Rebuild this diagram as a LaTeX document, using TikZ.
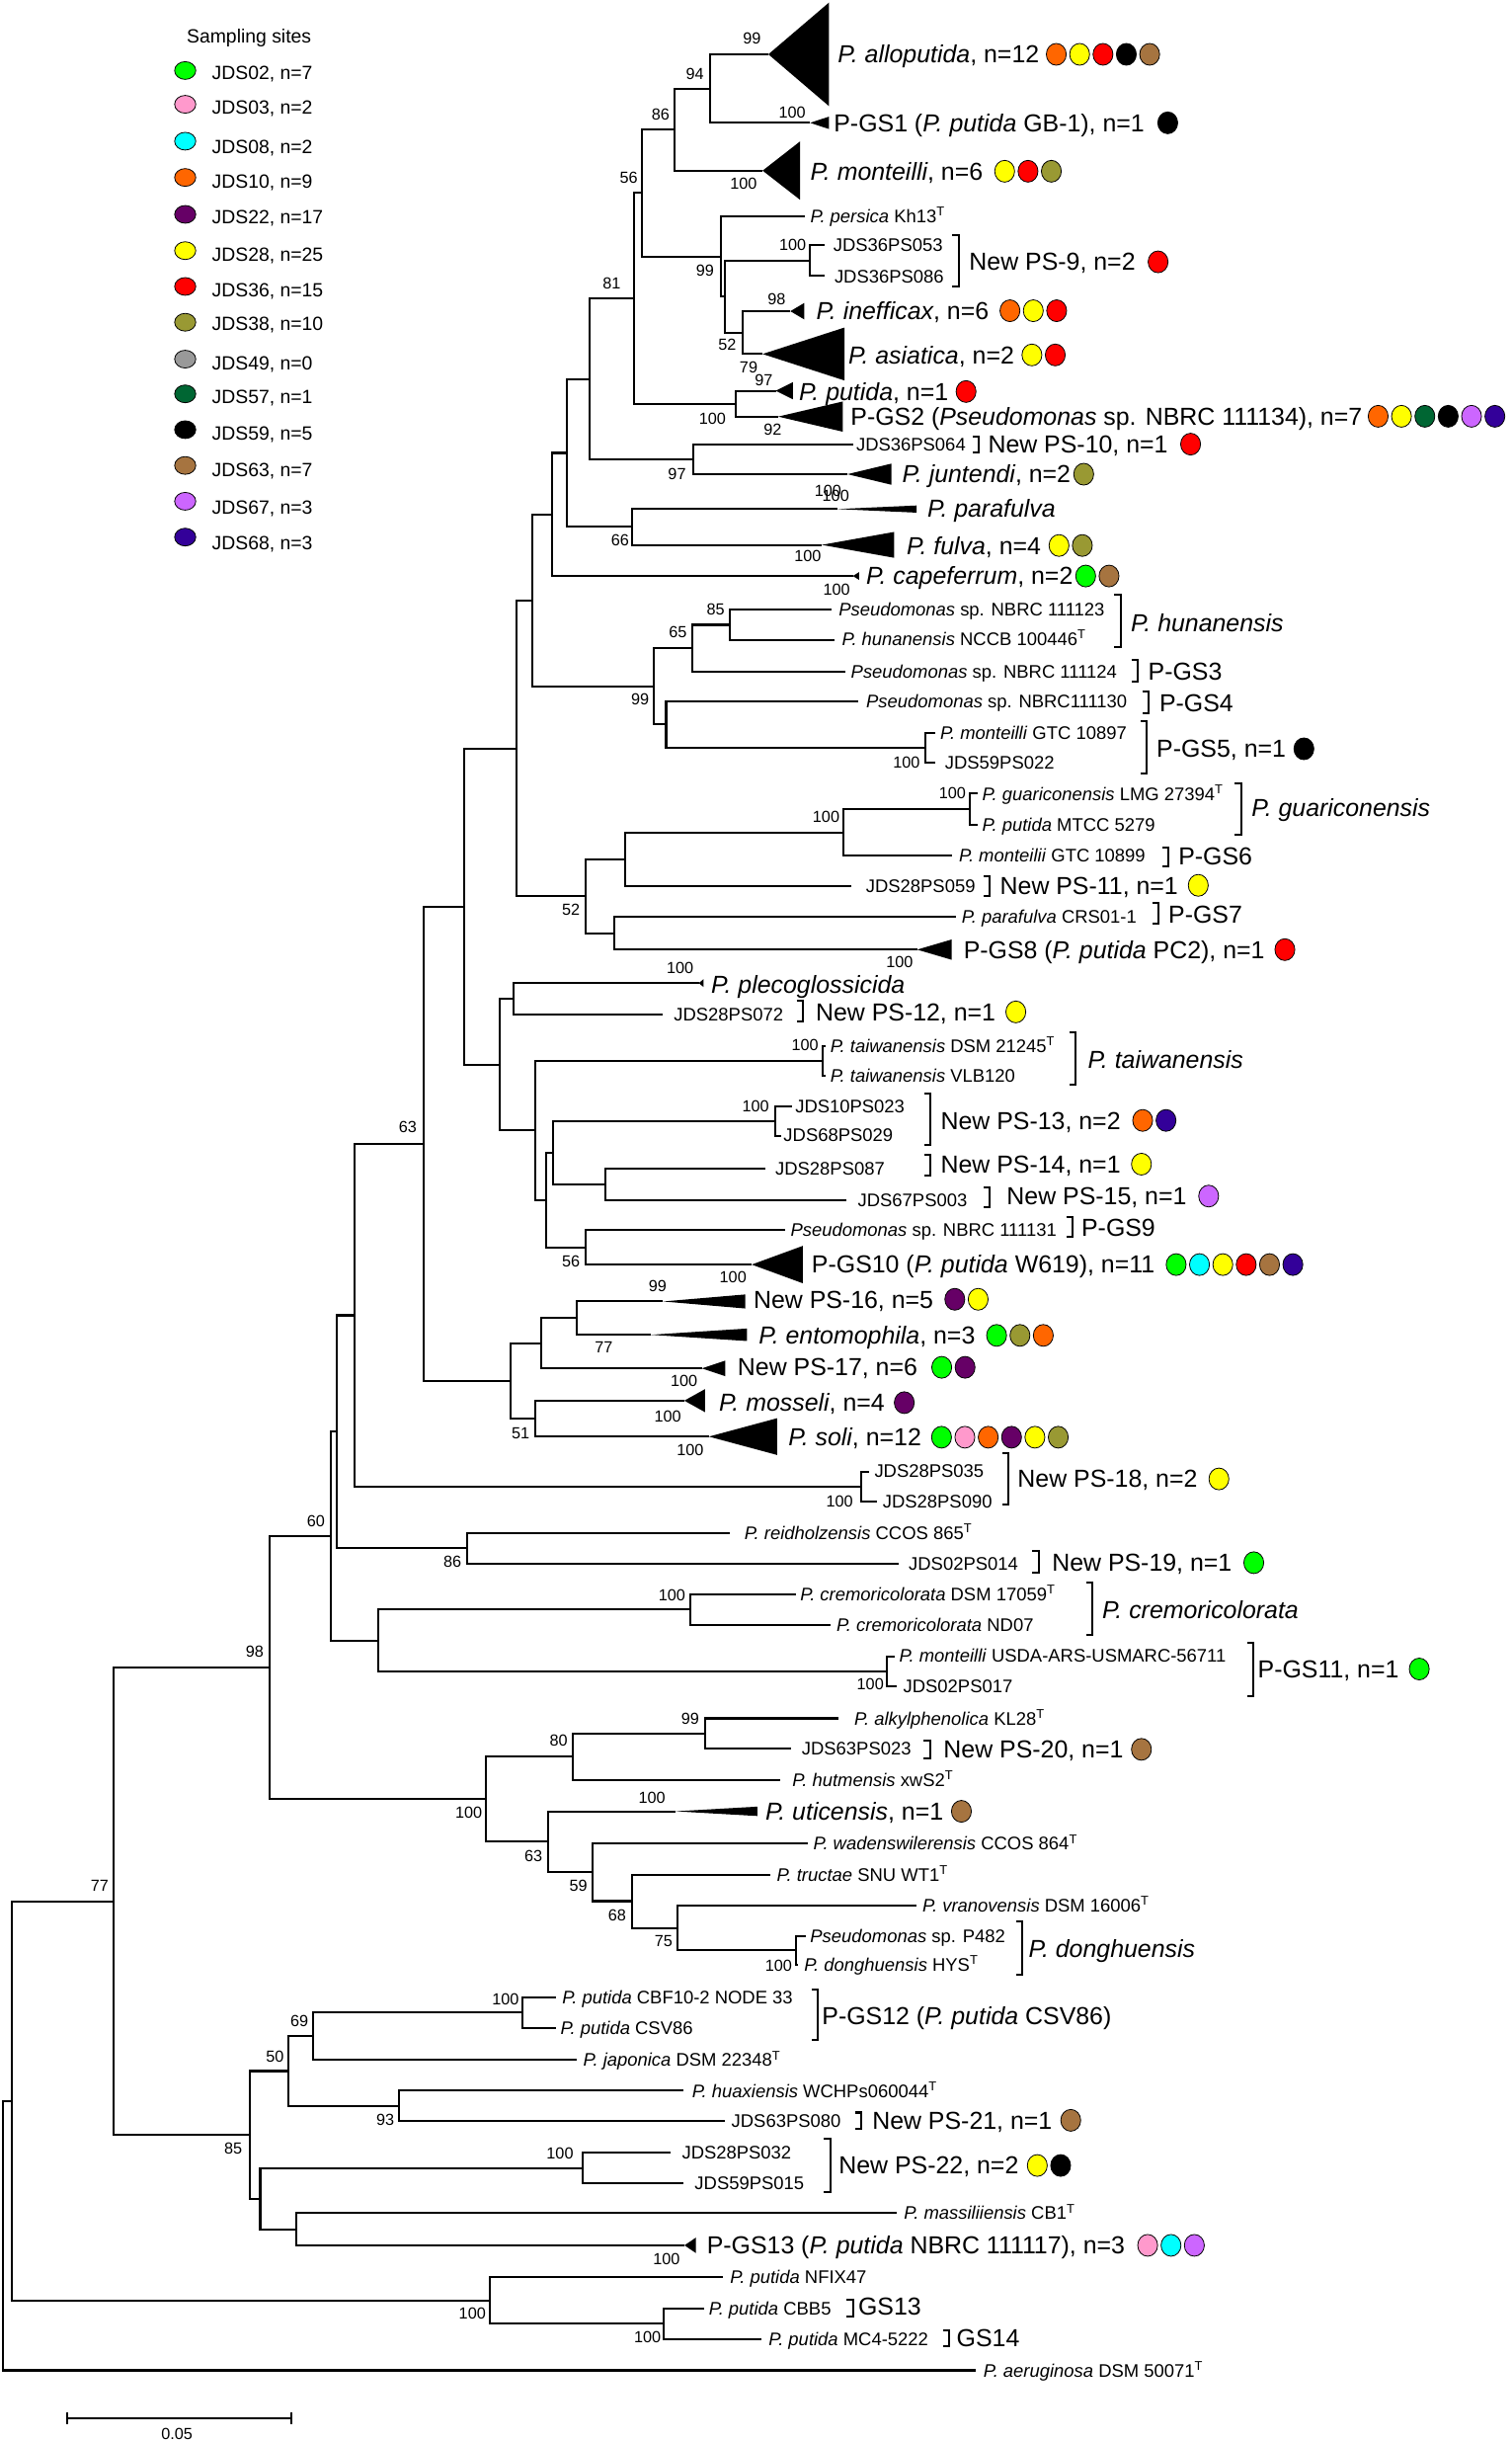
\documentclass[tikz,border=0pt]{standalone}
\usepackage{fontspec}
\setmainfont{Liberation Sans}
\usetikzlibrary{calc}
\definecolor{c02}{RGB}{0,255,0}
\definecolor{c03}{RGB}{255,153,204}
\definecolor{c08}{RGB}{0,255,255}
\definecolor{c10}{RGB}{255,102,0}
\definecolor{c22}{RGB}{102,0,102}
\definecolor{c28}{RGB}{255,255,0}
\definecolor{c36}{RGB}{255,0,0}
\definecolor{c38}{RGB}{153,153,51}
\definecolor{c49}{RGB}{153,153,153}
\definecolor{c57}{RGB}{0,102,51}
\definecolor{c59}{RGB}{0,0,0}
\definecolor{c63}{RGB}{166,116,64}
\definecolor{c67}{RGB}{204,102,255}
\definecolor{c68}{RGB}{51,0,153}
\newcommand\bsf{\fontsize{10.3}{12}\selectfont}
\newcommand\slf{\fontsize{11.7}{13}\selectfont}
\newcommand\blf{\fontsize{15.8}{17}\selectfont}
\newcommand\lgf{\fontsize{12.3}{14}\selectfont}
\tikzset{
 br/.style={line width=1.3pt},
 bk/.style={line width=1.3pt},
 bs/.style={inner sep=0pt, font=\bsf},
 sl/.style={anchor=base west, inner sep=0pt, yshift=-4.2pt, font=\slf},
 bl/.style={anchor=base west, inner sep=0pt, yshift=-5.6pt, font=\blf},
 lg/.style={anchor=base west, inner sep=0pt, yshift=-4.4pt, font=\lgf},
 dotc/.style={draw=black, line width=0.5pt},
}
\newcommand\ed[2]{\draw[br] (#1) |- (#2);}
\newcommand\tri[3]{\fill (#1) -- ++(#2,#3) -- ++(0,{-2*(#3)}) -- cycle;}
\newcommand\brk[3]{\draw[bk] ({#1-4},#2) -- (#1,#2) -- (#1,#3) -- ({#1-4},#3);}
\newcommand\sdots[3]{\foreach \cc [count=\ii from 0] in {#3}{\filldraw[dotc, fill=\cc] ($(#1.base east)+({#2+6.4+15*\ii},-5.6)$) ellipse[x radius=6.4pt, y radius=7pt];}}
\begin{document}
\begin{tikzpicture}[x=1pt,y=-1pt]
\useasboundingbox (0,0) rectangle (971,1568);
% ---------- legend ----------
\node[font=\lgf, inner sep=0pt] (lgT) at (160,24.5) {Sampling sites};
\foreach \c/\yd/\yt/\t in {c02/45.3/47/{JDS02, n=7}, c03/67/68.7/{JDS03, n=2}, c08/90.7/94/{JDS08, n=2}, c10/114/116.5/{JDS10, n=9}, c22/137.7/139.5/{JDS22, n=17}, c28/161/163.5/{JDS28, n=25}, c36/184/186.5/{JDS36, n=15}, c38/207/208/{JDS38, n=10}, c49/230.7/233.5/{JDS49, n=0}, c57/253/255/{JDS57, n=1}, c59/276/278.3/{JDS59, n=5}, c63/299/302/{JDS63, n=7}, c67/322/326/{JDS67, n=3}, c68/345/348.6/{JDS68, n=3}}{
 \filldraw[dotc, fill=\c] (119,\yd) ellipse[x radius=6.8pt, y radius=5.7pt];
 \node[lg] at (136,\yt) {\t};
}
% ---------- internal nodes ----------
\coordinate (nA) at (456.1,56.9);
\coordinate (nB) at (433.3,83.25);
\coordinate (nC) at (412.6,124.0);
\coordinate (nE) at (463.5,164.8);
\coordinate (nG) at (466,190.55);
\coordinate (nH) at (477.4,213.65);
\coordinate (n9) at (520.5,167.45);
\coordinate (nD) at (407.1,191.65);
\coordinate (nPu) at (472.7,259.3);
\coordinate (n97) at (445.5,295.1);
\coordinate (nP1) at (379,243.4);
\coordinate (n66) at (406.4,338.5);
\coordinate (nP2) at (364,290.95);
\coordinate (nP3) at (355,330.5);
\coordinate (nHu) at (469,401.35);
\coordinate (n65) at (445,416.5);
\coordinate (n5) at (594.8,480.2);
\coordinate (nX) at (428,465.4);
\coordinate (n99) at (420,440.95);
\coordinate (nP3b) at (342,385.7);
\coordinate (nGu) at (623,519.9);
\coordinate (n541) at (541.7,534.75);
\coordinate (n401) at (401.5,551.9);
\coordinate (n395) at (394.8,599.5);
\coordinate (n376) at (376,575.7);
\coordinate (n332) at (332,480.7);
\coordinate (n330) at (330,641.55);
\coordinate (nTw) at (528.6,681.35);
\coordinate (n13) at (498,720.4);
\coordinate (n389) at (388.8,760.8);
\coordinate (n356) at (355.6,740.6);
\coordinate (n56) at (376,801.15);
\coordinate (n351) at (351.2,770.9);
\coordinate (n344) at (343.7,726.1);
\coordinate (n321) at (320.8,683.8);
\coordinate (n298) at (298,582.25);
\coordinate (n370) at (370.5,846.7);
\coordinate (n348) at (348,862.85);
\coordinate (n344b) at (343.7,911.25);
\coordinate (n328) at (328,887.05);
\coordinate (n272) at (272,734.65);
\coordinate (n18) at (553.2,955.15);
\coordinate (n228) at (228,844.9);
\coordinate (n86) at (300.4,994.6);
\coordinate (n216) at (216.2,919.75);
\coordinate (nCr) at (443.3,1033.95);
\coordinate (n11) at (569.7,1073.5);
\coordinate (n243) at (242.8,1053.7);
\coordinate (n60) at (212.8,986.7);
\coordinate (n99c) at (452.8,1113.35);
\coordinate (n80) at (368.1,1128.4);
\coordinate (nDo) at (511.5,1252.9);
\coordinate (n75) at (435.4,1238.35);
\coordinate (n68) at (406,1221.2);
\coordinate (n59) at (381,1202.75);
\coordinate (n63) at (352.2,1183.1);
\coordinate (n100b) at (312.4,1155.75);
\coordinate (n98) at (173,1071.2);
\coordinate (nCB) at (335.8,1292.85);
\coordinate (n69) at (201.2,1308.0);
\coordinate (n93) at (256.2,1352.7);
\coordinate (n50) at (185,1330.35);
\coordinate (n22) at (374.6,1392.55);
\coordinate (n190) at (190.3,1431.95);
\coordinate (n167) at (167.2,1412.25);
\coordinate (n85) at (160.3,1371.3);
\coordinate (n77) at (72.9,1221.25);
\coordinate (n426) at (426.2,1492.7);
\coordinate (n315) at (314.7,1477.75);
\coordinate (n7) at (7.4,1349.5);
\coordinate (nR) at (1.9,1436.05);
% ---------- tips ----------
\coordinate (tAllo) at (493.7,34.9);
\coordinate (tGS1) at (520.5,78.9);
\coordinate (tMon) at (490,109.6);
\coordinate (tPer) at (516.9,139);
\coordinate (tS053) at (530,157.6);
\coordinate (tS086) at (530,177.3);
\coordinate (tIne) at (507.8,199.9);
\coordinate (tAsi) at (490,227.4);
\coordinate (tPut) at (498.5,251);
\coordinate (tGS2) at (500,267.6);
\coordinate (tS064) at (548,285.6);
\coordinate (tJun) at (544.5,304.6);
\coordinate (tPfa) at (538,327);
\coordinate (tFul) at (528,350);
\coordinate (tCap) at (548,370);
\coordinate (t123) at (534,391.4);
\coordinate (tHun) at (536,411.3);
\coordinate (t124) at (543,431.6);
\coordinate (t130) at (551.6,450.6);
\coordinate (t897) at (601,470.7);
\coordinate (tS022) at (601,489.7);
\coordinate (tLMG) at (628,509.8);
\coordinate (tMTC) at (628,530);
\coordinate (t899) at (611.4,549.6);
\coordinate (tS059) at (547,569);
\coordinate (tCRS) at (614,589);
\coordinate (tGS8) at (589.3,610);
\coordinate (tPle) at (449,631.5);
\coordinate (tS072) at (425.7,651.6);
\coordinate (tTw1) at (530.7,671.7);
\coordinate (tTw2) at (530.7,691);
\coordinate (tS023) at (508.6,710.8);
\coordinate (tS029) at (502,730);
\coordinate (tS087) at (491.6,750.6);
\coordinate (tS003) at (544,771);
\coordinate (t131) at (504.4,790);
\coordinate (tGS10) at (483,812.3);
\coordinate (tP16) at (426,836);
\coordinate (tEnt) at (418,857.4);
\coordinate (tP17) at (451,879);
\coordinate (tMos) at (439.7,899.7);
\coordinate (tSol) at (455.5,922.8);
\coordinate (tS035) at (558.4,945.6);
\coordinate (tS090) at (563.5,964.7);
\coordinate (tRei) at (469.2,984.8);
\coordinate (tS014) at (577.7,1004.4);
\coordinate (tCr1) at (511.5,1023.9);
\coordinate (tCr2) at (533.9,1044);
\coordinate (tUSD) at (574.7,1064);
\coordinate (tS017) at (576,1083);
\coordinate (tAlk) at (538.8,1103.8);
\coordinate (tS023b) at (508,1122.9);
\coordinate (tHut) at (501.5,1143.4);
\coordinate (tUti) at (434,1163.5);
\coordinate (tWad) at (519,1184.3);
\coordinate (tTru) at (495,1204.1);
\coordinate (tVra) at (588.6,1223.8);
\coordinate (tP482) at (518,1243.9);
\coordinate (tHYS) at (513,1261.9);
\coordinate (tCBF) at (357.3,1283);
\coordinate (tCSV) at (357.3,1302.7);
\coordinate (tJap) at (370.8,1323.2);
\coordinate (tHua) at (439.2,1343);
\coordinate (tS080) at (466,1362.4);
\coordinate (tS032) at (431,1382.5);
\coordinate (tS015) at (439.2,1402.6);
\coordinate (tMas) at (576.4,1421.6);
\coordinate (tGS13) at (439.8,1442.3);
\coordinate (tNFI) at (464.6,1462.8);
\coordinate (tCBB) at (452.2,1483);
\coordinate (tMC4) at (489.3,1502.4);
\coordinate (tAer) at (626.8,1522.6);
% ---------- edges ----------
\ed{nA}{tAllo} \ed{nA}{tGS1}
\ed{nB}{nA} \ed{nB}{tMon}
\ed{nC}{nB} \ed{nC}{nE}
\ed{nE}{tPer} \ed{nE}{nG}
\ed{nG}{n9} \ed{nG}{nH}
\ed{n9}{tS053} \ed{n9}{tS086}
\ed{nH}{tIne} \ed{nH}{tAsi}
\ed{nD}{nC} \ed{nD}{nPu}
\ed{nPu}{tPut} \ed{nPu}{tGS2}
\ed{n97}{tS064} \ed{n97}{tJun}
\ed{nP1}{nD} \ed{nP1}{n97}
\ed{n66}{tPfa} \ed{n66}{tFul}
\ed{nP2}{nP1} \ed{nP2}{n66}
\ed{nP3}{nP2} \ed{nP3}{tCap}
\ed{nHu}{t123} \ed{nHu}{tHun}
\ed{n65}{nHu} \ed{n65}{t124}
\ed{n5}{t897} \ed{n5}{tS022}
\ed{nX}{t130} \ed{nX}{n5}
\ed{n99}{n65} \ed{n99}{nX}
\ed{nP3b}{nP3} \ed{nP3b}{n99}
\ed{nGu}{tLMG} \ed{nGu}{tMTC}
\ed{n541}{nGu} \ed{n541}{t899}
\ed{n401}{n541} \ed{n401}{tS059}
\ed{n395}{tCRS} \ed{n395}{tGS8}
\ed{n376}{n401} \ed{n376}{n395}
\ed{n332}{nP3b} \ed{n332}{n376}
\ed{n330}{tPle} \ed{n330}{tS072}
\ed{nTw}{tTw1} \ed{nTw}{tTw2}
\ed{n13}{tS023} \ed{n13}{tS029}
\ed{n389}{tS087} \ed{n389}{tS003}
\ed{n356}{n13} \ed{n356}{n389}
\ed{n56}{t131} \ed{n56}{tGS10}
\ed{n351}{n356} \ed{n351}{n56}
\ed{n344}{nTw} \ed{n344}{n351}
\ed{n321}{n330} \ed{n321}{n344}
\ed{n298}{n332} \ed{n298}{n321}
\ed{n370}{tP16} \ed{n370}{tEnt}
\ed{n348}{n370} \ed{n348}{tP17}
\ed{n344b}{tMos} \ed{n344b}{tSol}
\ed{n328}{n348} \ed{n328}{n344b}
\ed{n272}{n298} \ed{n272}{n328}
\ed{n18}{tS035} \ed{n18}{tS090}
\ed{n228}{n272} \ed{n228}{n18}
\ed{n86}{tRei} \ed{n86}{tS014}
\ed{n216}{n228} \ed{n216}{n86}
\ed{nCr}{tCr1} \ed{nCr}{tCr2}
\ed{n11}{tUSD} \ed{n11}{tS017}
\ed{n243}{nCr} \ed{n243}{n11}
\ed{n60}{n216} \ed{n60}{n243}
\ed{n99c}{tAlk} \ed{n99c}{tS023b}
\ed{n80}{n99c} \ed{n80}{tHut}
\ed{nDo}{tP482} \ed{nDo}{tHYS}
\ed{n75}{tVra} \ed{n75}{nDo}
\ed{n68}{tTru} \ed{n68}{n75}
\ed{n59}{tWad} \ed{n59}{n68}
\ed{n63}{tUti} \ed{n63}{n59}
\ed{n100b}{n80} \ed{n100b}{n63}
\ed{n98}{n60} \ed{n98}{n100b}
\ed{nCB}{tCBF} \ed{nCB}{tCSV}
\ed{n69}{nCB} \ed{n69}{tJap}
\ed{n93}{tHua} \ed{n93}{tS080}
\ed{n50}{n69} \ed{n50}{n93}
\ed{n22}{tS032} \ed{n22}{tS015}
\ed{n190}{tMas} \ed{n190}{tGS13}
\ed{n167}{n22} \ed{n167}{n190}
\ed{n85}{n50} \ed{n85}{n167}
\ed{n77}{n98} \ed{n77}{n85}
\ed{n426}{tCBB} \ed{n426}{tMC4}
\ed{n315}{tNFI} \ed{n315}{n426}
\ed{n7}{n77} \ed{n7}{n315}
\ed{nR}{n7} \ed{nR}{tAer}
% ---------- collapsed clades ----------
\tri{tAllo}{39}{33.3}
\tri{tGS1}{12.2}{4}
\tri{tMon}{24}{18.7}
\tri{tIne}{9}{5.3}
\tri{tAsi}{52.6}{17}
\tri{tPut}{11}{5.5}
\tri{tGS2}{41.5}{9.7}
\tri{tJun}{28.3}{6.8}
\tri{tPfa}{51}{2.3}
\tri{tFul}{46.5}{8.3}
\tri{tCap}{4}{2.5}
\tri{tGS8}{22.1}{6.5}
\tri{tPle}{3}{2.5}
\tri{tGS10}{32.8}{12}
\tri{tP16}{52.8}{4.5}
\tri{tEnt}{62}{4}
\tri{tP17}{15}{5}
\tri{tMos}{13.3}{7.4}
\tri{tSol}{43.8}{11.8}
\tri{tUti}{52.6}{3}
\tri{tGS13}{7.4}{5}
% ---------- large labels ----------
\node[bl] (lAllo) at (538.2,34.9) {\textit{P. alloputida}, n=12};
\node[bl] (lGS1) at (535.6,78.9) {P-GS1 (\textit{P. putida} GB-1), n=1};
\node[bl] (lMon) at (520.5,110) {\textit{P. monteilli}, n=6};
\node[bl] (lPS9) at (622.6,168.2) {New PS-9, n=2};
\node[bl] (lIne) at (524.3,199.6) {\textit{P. inefficax}, n=6};
\node[bl] (lAsi) at (545,228) {\textit{P. asiatica}, n=2};
\node[bl] (lPut) at (513.2,251.5) {\textit{P. putida}, n=1};
\node[bl] (lGS2) at (546.4,267.4) {P-GS2 (\textit{Pseudomonas} sp. NBRC 111134), n=7};
\node[bl] (lPS10) at (634.7,285.3) {New PS-10, n=1};
\node[bl] (lJun) at (579.5,304.6) {\textit{P. juntendi}, n=2};
\node[bl] (lPfa) at (595.7,326.8) {\textit{P. parafulva}};
\node[bl] (lFul) at (582.4,350.4) {\textit{P. fulva}, n=4};
\node[bl] (lCap) at (556.4,370) {\textit{P. capeferrum}, n=2};
\node[bl] (lHun) at (726.4,400) {\textit{P. hunanensis}};
\node[bl] (lGS3) at (737.6,431.6) {P-GS3};
\node[bl] (lGS4) at (744.8,451.7) {P-GS4};
\node[bl] (lGS5) at (743,481) {P-GS5, n=1};
\node[bl] (lGua) at (804,518.7) {\textit{P. guariconensis}};
\node[bl] (lGS6) at (757,550) {P-GS6};
\node[bl] (lPS11) at (642.4,568.7) {New PS-11, n=1};
\node[bl] (lGS7) at (750.6,587.5) {P-GS7};
\node[bl] (lGS8) at (619,610) {P-GS8 (\textit{P. putida} PC2), n=1};
\node[bl] (lPle) at (456.8,632.5) {\textit{P. plecoglossicida}};
\node[bl] (lPS12) at (524,650) {New PS-12, n=1};
\node[bl] (lTw) at (698.8,680.8) {\textit{P. taiwanensis}};
\node[bl] (lPS13) at (604.3,719.7) {New PS-13, n=2};
\node[bl] (lPS14) at (604.3,747.8) {New PS-14, n=1};
\node[bl] (lPS15) at (646.7,768.3) {New PS-15, n=1};
\node[bl] (lGS9) at (694.7,788.6) {P-GS9};
\node[bl] (lGS10) at (521.4,812.3) {P-GS10 (\textit{P. putida} W619), n=11};
\node[bl] (lPS16) at (484,834.6) {New PS-16, n=5};
\node[bl] (lEnt) at (487.4,857.8) {\textit{P. entomophila}, n=3};
\node[bl] (lPS17) at (473.8,878.3) {New PS-17, n=6};
\node[bl] (lMos) at (461.8,901) {\textit{P. mosseli}, n=4};
\node[bl] (lSol) at (506.4,923.2) {\textit{P. soli}, n=12};
\node[bl] (lPS18) at (653.7,950) {New PS-18, n=2};
\node[bl] (lPS19) at (675.8,1003.8) {New PS-19, n=1};
\node[bl] (lCre) at (708,1034) {\textit{P. cremoricolorata}};
\node[bl] (lGS11) at (808,1072.1) {P-GS11, n=1};
\node[bl] (lPS20) at (606.1,1123.7) {New PS-20, n=1};
\node[bl] (lUti) at (491.6,1163.5) {\textit{P. uticensis}, n=1};
\node[bl] (lDon) at (660.8,1251.9) {\textit{P. donghuensis}};
\node[bl] (lGS12) at (528,1294.6) {P-GS12 (\textit{P. putida} CSV86)};
\node[bl] (lPS21) at (560.3,1362) {New PS-21, n=1};
\node[bl] (lPS22) at (538.8,1391) {New PS-22, n=2};
\node[bl] (lGS13) at (454,1442.3) {P-GS13 (\textit{P. putida} NBRC 111117), n=3};
\node[bl] (lG13) at (551.3,1481.4) {GS13};
\node[bl] (lG14) at (614.5,1502) {GS14};
% ---------- site dots ----------
\sdots{lAllo}{4.4}{c10,c28,c36,c59,c63}
\sdots{lGS1}{8.4}{c59}
\sdots{lMon}{7.4}{c28,c36,c38}
\sdots{lPS9}{8}{c36}
\sdots{lIne}{7}{c10,c28,c36}
\sdots{lAsi}{4.8}{c28,c36}
\sdots{lPut}{4.8}{c36}
\sdots{lGS2}{3.7}{c10,c28,c57,c59,c67,c68}
\sdots{lPS10}{8}{c36}
\sdots{lJun}{1.8}{c38}
\sdots{lFul}{5}{c28,c38}
\sdots{lCap}{1.6}{c02,c63}
\sdots{lGS5}{5}{c59}
\sdots{lPS11}{6.4}{c28}
\sdots{lGS8}{6.4}{c36}
\sdots{lPS12}{6.4}{c28}
\sdots{lPS13}{7.6}{c10,c68}
\sdots{lPS14}{6.8}{c28}
\sdots{lPS15}{7.6}{c67}
\sdots{lGS10}{7.2}{c02,c08,c28,c36,c63,c68}
\sdots{lPS16}{7.2}{c22,c28}
\sdots{lEnt}{7.2}{c02,c38,c10}
\sdots{lPS17}{9}{c02,c22}
\sdots{lMos}{6}{c22}
\sdots{lSol}{6.4}{c02,c03,c10,c22,c28,c38}
\sdots{lPS18}{7.2}{c28}
\sdots{lPS19}{7.5}{c02}
\sdots{lGS11}{6.5}{c02}
\sdots{lPS20}{5}{c63}
\sdots{lUti}{5}{c63}
\sdots{lPS21}{5.4}{c63}
\sdots{lPS22}{5.4}{c28,c59}
\sdots{lGS13}{8}{c03,c08,c67}
% ---------- leaf labels ----------
\node[sl] (sPer) at (520.5,139) {\textit{P. persica} Kh13\textsuperscript{T}};
\node[sl] (s053) at (535.3,157.6) {JDS36PS053};
\node[sl] (s086) at (536,177.3) {JDS36PS086};
\node[sl] (s064) at (550,285.6) {JDS36PS064};
\node[sl] (s123) at (538.7,391.4) {\textit{Pseudomonas} sp. NBRC 111123};
\node[sl] (sHun) at (540.8,410.5) {\textit{P. hunanensis} NCCB 100446\textsuperscript{T}};
\node[sl] (s124) at (546.6,431.6) {\textit{Pseudomonas} sp. NBRC 111124};
\node[sl] (s130) at (556.4,450.6) {\textit{Pseudomonas} sp. NBRC111130};
\node[sl] (s897) at (604,470.7) {\textit{P. monteilli} GTC 10897};
\node[sl] (s022) at (607,489.7) {JDS59PS022};
\node[sl] (sLMG) at (631,509.8) {\textit{P. guariconensis} LMG 27394\textsuperscript{T}};
\node[sl] (sMTC) at (631,530) {\textit{P. putida} MTCC 5279};
\node[sl] (s899) at (616,549.6) {\textit{P. monteilii} GTC 10899};
\node[sl] (s059) at (556.2,569) {JDS28PS059};
\node[sl] (sCRS) at (617.8,589) {\textit{P. parafulva} CRS01-1};
\node[sl] (s072) at (432.8,651.6) {JDS28PS072};
\node[sl] (sTw1) at (533.3,671.7) {\textit{P. taiwanensis} DSM 21245\textsuperscript{T}};
\node[sl] (sTw2) at (533.3,691) {\textit{P. taiwanensis} VLB120};
\node[sl] (s023) at (510.8,710.8) {JDS10PS023};
\node[sl] (s029) at (503.3,729) {JDS68PS029};
\node[sl] (s087) at (498,750.6) {JDS28PS087};
\node[sl] (s003) at (551,771) {JDS67PS003};
\node[sl] (s131) at (507.8,790) {\textit{Pseudomonas} sp. NBRC 111131};
\node[sl] (s035) at (561.7,944.5) {JDS28PS035};
\node[sl] (s090) at (567,964.5) {JDS28PS090};
\node[sl] (sRei) at (478.1,984.8) {\textit{P. reidholzensis} CCOS 865\textsuperscript{T}};
\node[sl] (s014) at (583.7,1004.4) {JDS02PS014};
\node[sl] (sCr1) at (514,1023.9) {\textit{P. cremoricolorata} DSM 17059\textsuperscript{T}};
\node[sl] (sCr2) at (537.3,1044) {\textit{P. cremoricolorata} ND07};
\node[sl] (sUSD) at (577.7,1063.5) {\textit{P. monteilli} USDA-ARS-USMARC-56711};
\node[sl] (s017) at (580.2,1083) {JDS02PS017};
\node[sl] (sAlk) at (548.8,1103.8) {\textit{P. alkylphenolica} KL28\textsuperscript{T}};
\node[sl] (s023b) at (515,1122.9) {JDS63PS023};
\node[sl] (sHut) at (509,1143.4) {\textit{P. hutmensis} xwS2\textsuperscript{T}};
\node[sl] (sWad) at (522.4,1184.3) {\textit{P. wadenswilerensis} CCOS 864\textsuperscript{T}};
\node[sl] (sTru) at (499,1204.1) {\textit{P. tructae} SNU WT1\textsuperscript{T}};
\node[sl] (sVra) at (592.6,1223.8) {\textit{P. vranovensis} DSM 16006\textsuperscript{T}};
\node[sl] (sP482) at (520.4,1243.9) {\textit{Pseudomonas} sp. P482};
\node[sl] (sHYS) at (516.5,1261.9) {\textit{P. donghuensis} HYS\textsuperscript{T}};
\node[sl] (sCBF) at (361.1,1283) {\textit{P. putida} CBF10-2 NODE 33};
\node[sl] (sCSV) at (360,1302.7) {\textit{P. putida} CSV86};
\node[sl] (sJap) at (374.6,1323.2) {\textit{P. japonica} DSM 22348\textsuperscript{T}};
\node[sl] (sHua) at (444.5,1343) {\textit{P. huaxiensis} WCHPs060044\textsuperscript{T}};
\node[sl] (s080) at (469.8,1362.4) {JDS63PS080};
\node[sl] (s032) at (438,1382.5) {JDS28PS032};
\node[sl] (s015) at (446.2,1402.6) {JDS59PS015};
\node[sl] (sMas) at (580.7,1421.6) {\textit{P. massiliiensis} CB1\textsuperscript{T}};
\node[sl] (sNFI) at (469,1462.8) {\textit{P. putida} NFIX47};
\node[sl] (sCBB) at (455.3,1483) {\textit{P. putida} CBB5};
\node[sl] (sMC4) at (493.7,1502.4) {\textit{P. putida} MC4-5222};
\node[sl] (sAer) at (631.7,1522.6) {\textit{P. aeruginosa} DSM 50071\textsuperscript{T}};
% ---------- brackets ----------
\brk{616}{151}{184}
\brk{629}{280.3}{290.8}
\brk{720}{382}{415.7}
\brk{731}{424}{438}
\brk{738}{444}{458}
\brk{737}{463}{497}
\brk{797.5}{503}{536.3}
\brk{750.8}{544.6}{556.4}
\brk{636}{562.7}{575.4}
\brk{744.4}{580}{593.5}
\brk{515.8}{643}{656}
\brk{691}{663}{697}
\brk{597.8}{702.5}{735.6}
\brk{598}{742}{755}
\brk{636}{762.6}{775.3}
\brk{689}{781.7}{794.4}
\brk{648}{933.5}{966.7}
\brk{667.3}{996.4}{1010}
\brk{701.7}{1016.5}{1050.3}
\brk{805.2}{1055.2}{1089.5}
\brk{597.6}{1118}{1129.7}
\brk{656.9}{1234.4}{1268.2}
\brk{525.3}{1277.8}{1310.5}
\brk{553.3}{1357}{1367.6}
\brk{533.4}{1374}{1408}
\brk{548}{1477.2}{1488.2}
\brk{610}{1496.7}{1507.3}
% ---------- bootstrap values ----------
\foreach \x/\y/\v in {483.2/25/99, 509/72/100, 446.5/47.6/94, 477.8/118/100, 424.4/73.6/86, 404/114.2/56,
 393/182/81, 509.3/157.6/100, 453/173.5/99, 499/192.5/98, 467.3/221.6/52, 481/235.9/79, 490.8/244.3/97,
 457.8/268.7/100, 496.5/276/92, 435/304.6/97, 532/315.5/100, 537/318.5/100, 398.5/347/66, 519/357.5/100,
 537.5/379/100, 459.8/391.4/85, 435.5/406/65, 411.3/449/99, 582.5/489.7/100, 612/509.4/100, 530.8/524.6/100,
 366.8/584.5/52, 578/618/100, 437/622/100, 517.3/671/100, 485.5/710.8/100, 262/724/63, 366.8/810/56,
 471/820.7/100, 422.5/826/99, 388/865.7/77, 439.5/886.8/100, 429/909.7/100, 334.5/920.7/51, 443.5/931.6/100,
 539.5/964.7/100, 203/977.4/60, 290.7/1003/86, 431.8/1025/100, 163.7/1060.9/98, 559.2/1082/100,
 443.5/1103.8/99, 358.9/1118/80, 301.2/1164.6/100, 418.9/1155/100, 342.7/1192.1/63, 371.6/1211/59,
 64/1211/77, 396.5/1230.2/68, 426.4/1247/75, 500.3/1262.5/100, 324.8/1284/100, 192.3/1298.5/69,
 176.7/1321.1/50, 247.5/1362/93, 149.8/1380.3/85, 359.8/1383.5/100, 428.3/1451.3/100, 303.5/1486/100,
 416/1501/100}{
 \node[bs] at (\x,\y) {\v};
}
% ---------- scale bar ----------
\coordinate (sbL) at (43.4,1553.2);
\coordinate (sbR) at (187.1,1553.2);
\draw[br] (sbL) -- (sbR);
\draw[br] (43.4,1549.4) -- (43.4,1557);
\draw[br] (187.1,1549.4) -- (187.1,1557);
\node[bs] (sbT) at (113.7,1563.3) {0.05};
\end{tikzpicture}
\end{document}
